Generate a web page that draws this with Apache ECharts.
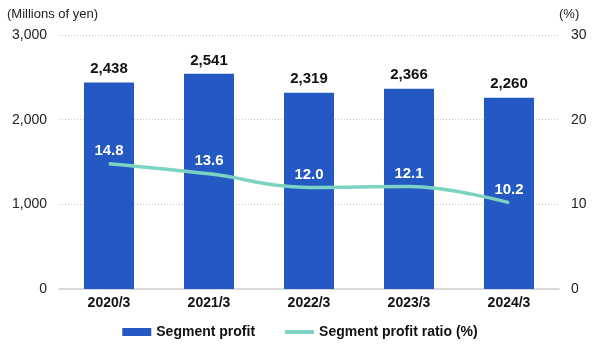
<!DOCTYPE html>
<html><head><meta charset="utf-8">
<script src="https://cdn.jsdelivr.net/npm/echarts@6/dist/echarts.min.js"></script>
<style>html,body{margin:0;padding:0;background:#fff}#c{width:600px;height:350px}</style>
</head><body><div id="c"></div>
<script>
var categories = ['2020/3','2021/3','2022/3','2023/3','2024/3'];
var segmentProfit = [2438, 2541, 2319, 2366, 2260];
var profitRatio = [14.8, 13.6, 12.0, 12.1, 10.2];
var leftTicks = [0, 1000, 2000, 3000];
var rightTicks = [0, 10, 20, 30];

var font = '"Liberation Sans", Arial, sans-serif';
var chart = echarts.init(document.getElementById('c'));
chart.setOption({
  animation: false,
  textStyle: {fontFamily: font},
  grid: {left: 59, right: 41, top: 35, bottom: 61},
  legend: {
    bottom: 6, left: 'center', itemGap: 30, itemWidth: 29, itemHeight: 8,
    textStyle: {fontSize: 14, fontWeight: 'bold', color: '#111', fontFamily: font},
    data: [{name: 'Segment profit', icon: 'rect'},
           {name: 'Segment profit ratio (%)', icon: 'path://M0,0 L30,0 L30,4 L0,4 Z', itemStyle: {color: '#7dd3c1'}}]
  },
  xAxis: {
    type: 'category', data: categories,
    axisTick: {show: false},
    axisLine: {lineStyle: {color: '#d0d0d0', width: 1.5}},
    axisLabel: {fontSize: 14, fontWeight: 'bold', color: '#111', margin: 7}
  },
  yAxis: [{
    type: 'value', min: 0, max: 3000, interval: 1000,
    name: '(Millions of yen)', nameLocation: 'end', nameGap: 14,
    nameTextStyle: {fontSize: 13, color: '#222', align: 'left', padding: [0, 0, 0, -52]},
    axisLabel: {fontSize: 14, color: '#222', margin: 12,
      formatter: function (v) { return v.toLocaleString('en-US'); }},
    splitLine: {lineStyle: {color: '#c8c8c8', type: [1, 2]}},
    axisLine: {show: false}, axisTick: {show: false}
  }, {
    type: 'value', min: 0, max: 30, interval: 10,
    name: '(%)', nameLocation: 'end', nameGap: 14,
    nameTextStyle: {fontSize: 13, color: '#222', align: 'left', padding: [0, 0, 0, 0]},
    axisLabel: {fontSize: 14, color: '#222', margin: 12},
    splitLine: {show: false}, axisLine: {show: false}, axisTick: {show: false}
  }],
  series: [{
    name: 'Segment profit', type: 'bar', data: segmentProfit, barWidth: 50,
    itemStyle: {color: '#2459c4'},
    label: {show: true, position: 'top', distance: 6, fontSize: 15, fontWeight: 'bold', color: '#111',
      formatter: function (p) { return p.value.toLocaleString('en-US'); }}
  }, {
    name: 'Segment profit ratio (%)', type: 'line', yAxisIndex: 1, data: profitRatio,
    smooth: 0.4, symbol: 'circle', symbolSize: 1, showSymbol: true,
    lineStyle: {color: '#7dd3c1', width: 3.5}, itemStyle: {color: '#7dd3c1'},
    label: {show: true, position: 'top', distance: 5, fontSize: 15, fontWeight: 'bold', color: '#fff',
      formatter: function (p) { return p.value.toFixed(1); }}
  }]
});
</script></body></html>
